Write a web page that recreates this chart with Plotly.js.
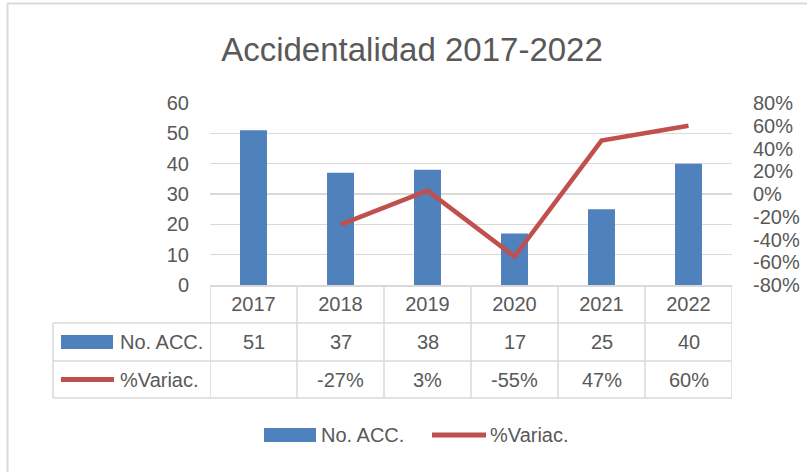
<!DOCTYPE html>
<html>
<head>
<meta charset="utf-8">
<script src="https://cdn.plot.ly/plotly-3.0.1.min.js"></script>
<style>html,body{margin:0;padding:0;background:#fff;}#chart{width:807px;height:472px;}</style>
</head>
<body>
<div id="chart"></div>
<script>
const categories = ['2017', '2018', '2019', '2020', '2021', '2022'];
const accidents = [51, 37, 38, 17, 25, 40];
const variation = [null, -0.27, 0.03, -0.55, 0.47, 0.60];
const seriesNames = ['No. ACC.', '%Variac.'];
const rightTickVals = [-0.8, -0.6, -0.4, -0.2, 0, 0.2, 0.4, 0.6, 0.8];
const chartTitle = 'Accidentalidad 2017-2022';

const FONT = 'Liberation Sans, Arial, sans-serif';
const TXT = '#595959';
const GRID = '#d9d9d9';
const BLUE = '#4f81bd';
const RED = '#c0504d';

// plot area in pixels
const L = 210, R = 732, T = 103, B = 285;
const W = 807, H = 472;
const px = x => (x - L) / (R - L);
const py = y => (B - y) / (B - T);

const fmtPct = v => (v === null ? '' : Math.round(v * 100) + '%');

const traces = [
  {
    type: 'bar', x: categories, y: accidents, name: seriesNames[0],
    marker: {color: BLUE}, showlegend: false, hoverinfo: 'x+y'
  },
  {
    type: 'scatter', mode: 'lines', x: categories, y: variation, yaxis: 'y2',
    name: seriesNames[1], line: {color: RED, width: 4.5}, connectgaps: false,
    showlegend: false
  }
];

const shapes = [];
const annotations = [];
const lineStyle = {color: GRID, width: 1.5};
const cellFont = {family: FONT, size: 20, color: TXT};

// outer frame (left + top)
shapes.push({type: 'line', xref: 'paper', yref: 'paper', x0: px(7.5), x1: px(7.5), y0: py(3.5), y1: py(472), line: {color: GRID, width: 2}});
shapes.push({type: 'line', xref: 'paper', yref: 'paper', x0: px(7.5), x1: px(807), y0: py(3.5), y1: py(3.5), line: {color: GRID, width: 2}});

// table horizontal lines
[323, 361, 398].forEach(y => {
  shapes.push({type: 'line', xref: 'paper', yref: 'paper', x0: px(53), x1: 1, y0: py(y), y1: py(y), line: lineStyle});
});
// table vertical lines at category boundaries
for (let i = 0; i <= categories.length; i++) {
  shapes.push({type: 'line', xref: 'x', yref: 'paper', x0: i - 0.5, x1: i - 0.5, y0: 0, y1: py(398), line: lineStyle});
}
// left border of label column
shapes.push({type: 'line', xref: 'paper', yref: 'paper', x0: px(53), x1: px(53), y0: py(323), y1: py(398), line: lineStyle});

// table legend keys
shapes.push({type: 'rect', xref: 'paper', yref: 'paper', x0: px(61), x1: px(113), y0: py(335), y1: py(349), fillcolor: BLUE, line: {width: 0}});
shapes.push({type: 'line', xref: 'paper', yref: 'paper', x0: px(61), x1: px(114), y0: py(379.5), y1: py(379.5), line: {color: RED, width: 5}});
annotations.push({xref: 'paper', yref: 'paper', x: px(118), y: py(342), xanchor: 'left', yanchor: 'middle', text: seriesNames[0], showarrow: false, font: cellFont});
annotations.push({xref: 'paper', yref: 'paper', x: px(118), y: py(380), xanchor: 'left', yanchor: 'middle', text: seriesNames[1], showarrow: false, font: cellFont});

// table cells (positioned through the category axis)
categories.forEach((c, i) => {
  annotations.push({xref: 'x', yref: 'paper', x: i, y: py(342), xanchor: 'center', yanchor: 'middle', text: String(accidents[i]), showarrow: false, font: cellFont});
  const t = fmtPct(variation[i]);
  if (t) annotations.push({xref: 'x', yref: 'paper', x: i, y: py(380), xanchor: 'center', yanchor: 'middle', text: t, showarrow: false, font: cellFont});
});

// bottom legend
shapes.push({type: 'rect', xref: 'paper', yref: 'paper', x0: px(264), x1: px(316), y0: py(428), y1: py(442), fillcolor: BLUE, line: {width: 0}});
shapes.push({type: 'line', xref: 'paper', yref: 'paper', x0: px(432), x1: px(486), y0: py(435), y1: py(435), line: {color: RED, width: 5}});
annotations.push({xref: 'paper', yref: 'paper', x: px(319), y: py(435), xanchor: 'left', yanchor: 'middle', text: seriesNames[0], showarrow: false, font: cellFont});
annotations.push({xref: 'paper', yref: 'paper', x: px(488), y: py(435), xanchor: 'left', yanchor: 'middle', text: seriesNames[1], showarrow: false, font: cellFont});

const layout = {
  width: W, height: H,
  margin: {l: L, r: W - R, t: T, b: H - B, pad: 0},
  paper_bgcolor: '#fff', plot_bgcolor: '#fff',
  font: {family: FONT, size: 20, color: TXT},
  title: {text: chartTitle, x: 412 / W, xanchor: 'center', y: 1 - 49 / H, yanchor: 'middle', font: {family: FONT, size: 33, color: TXT}},
  bargap: 0.69,
  showlegend: false,
  xaxis: {
    type: 'category', range: [-0.5, 5.5], showgrid: false, zeroline: false,
    showline: true, linecolor: GRID, linewidth: 1.5, ticks: '', tickfont: {size: 20, color: TXT},
    fixedrange: true
  },
  yaxis: {
    range: [0, 60], dtick: 10, showgrid: true, gridcolor: GRID, gridwidth: 1.5, zeroline: false,
    showline: false, ticks: '', ticklabelstandoff: 20, tickfont: {size: 20, color: TXT}, fixedrange: true
  },
  yaxis2: {
    overlaying: 'y', side: 'right', range: [-0.8, 0.8],
    tickmode: 'array', tickvals: rightTickVals, ticktext: rightTickVals.map(fmtPct),
    showgrid: false, zeroline: false, showline: false, ticks: '', ticklabelstandoff: 20,
    tickfont: {size: 20, color: TXT}, fixedrange: true
  },
  shapes: shapes,
  annotations: annotations
};

Plotly.newPlot('chart', traces, layout, {displayModeBar: false, staticPlot: true});
</script>
</body>
</html>
